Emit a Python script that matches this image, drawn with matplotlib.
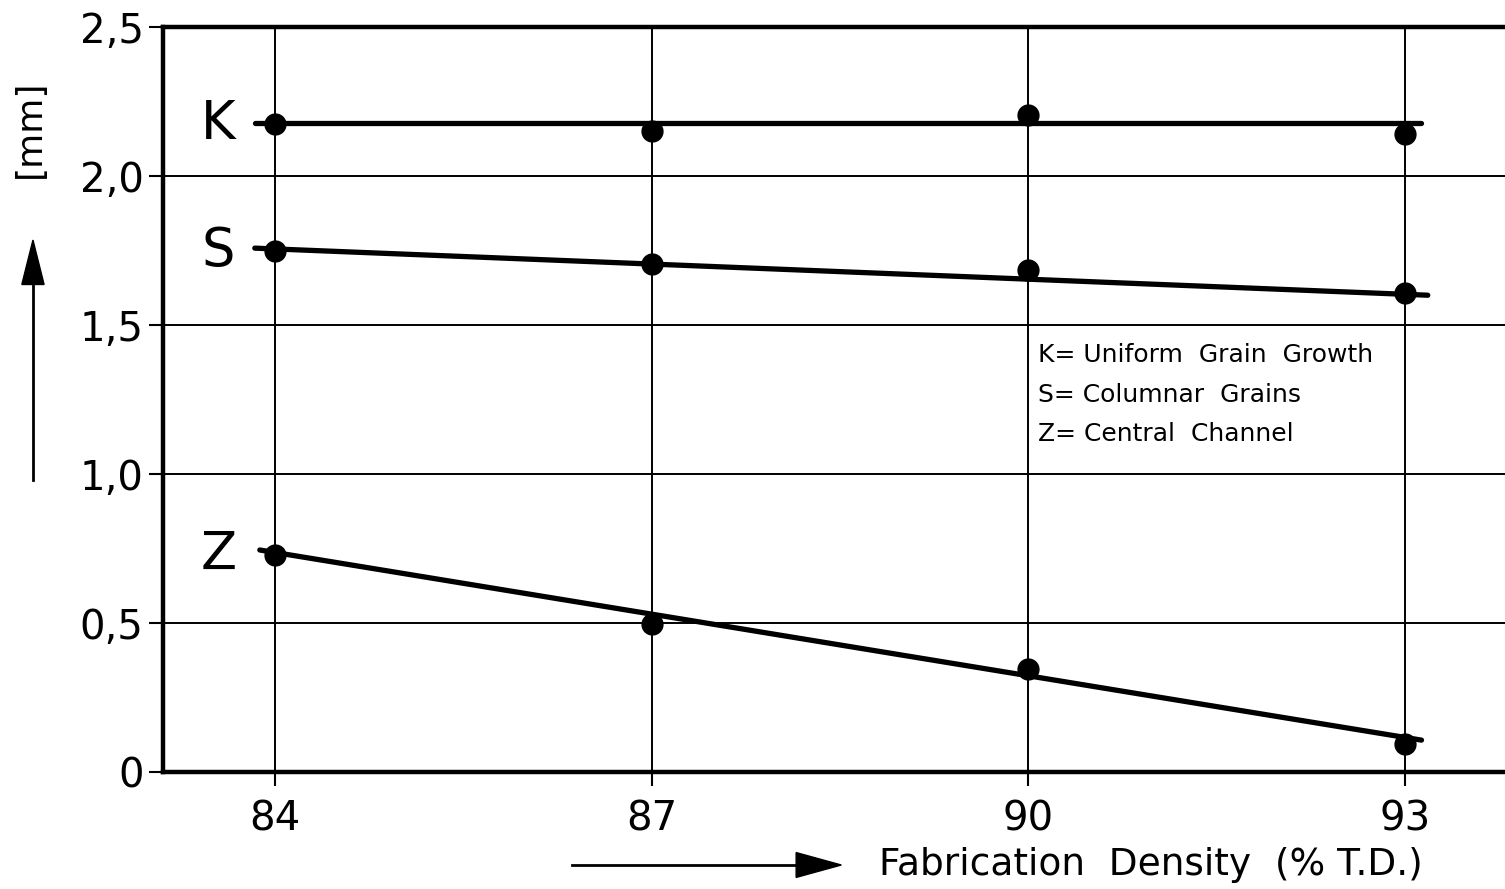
import matplotlib.pyplot as plt

# measured thickness of the three zones against fabrication density
density = [84, 87, 90, 93]
uniformGrowth = [2.175, 2.15, 2.205, 2.14]
columnarGrains = [1.75, 1.705, 1.685, 1.607]
centralChannel = [0.728, 0.497, 0.346, 0.094]

# hand-drawn trend lines: (x start, x end), (y start, y end)
trendK = ([83.84, 93.13], [2.178, 2.178])
trendS = ([83.84, 93.18], [1.758, 1.600])
trendZ = ([83.88, 93.13], [0.745, 0.107])

curveNames = ["K", "S", "Z"]
legendLines = ["K= Uniform  Grain  Growth",
               "S= Columnar  Grains",
               "Z= Central  Channel"]
yTicks = [0, 0.5, 1.0, 1.5, 2.0, 2.5]
yTickLabels = ["0", "0,5", "1,0", "1,5", "2,0", "2,5"]

plt.rcParams["font.family"] = ["DejaVu Sans"]

fig = plt.figure(figsize=(15.05, 8.89), dpi=100)
ax = fig.add_axes([0.1083, 0.1316, 0.8917, 0.838])

ax.set_xlim(83.109, 93.795)
ax.set_ylim(0, 2.5)

for spine in ["left", "bottom", "top"]:
    ax.spines[spine].set_linewidth(3.2)
ax.spines["right"].set_visible(False)

ax.set_xticks(density)
ax.set_xticklabels([str(d) for d in density])
ax.set_yticks(yTicks)
ax.set_yticklabels(yTickLabels)
ax.tick_params(axis="both", direction="out", length=10, width=1.5,
               labelsize=29, colors="black")
ax.tick_params(axis="y", pad=4)
ax.tick_params(axis="x", pad=10)
ax.grid(True, color="black", linewidth=1.4)
ax.set_axisbelow(True)

for (xs, ys), values, name in zip([trendK, trendS, trendZ],
                                  [uniformGrowth, columnarGrains, centralChannel],
                                  curveNames):
    ax.plot(xs, ys, color="black", linewidth=3.8, solid_capstyle="round", zorder=3)
    ax.plot(density, values, "o", color="black", markersize=15, zorder=4)
    ax.text(83.55, values[0], name, fontsize=38, ha="center", va="center")

for i, line in enumerate(legendLines):
    ax.text(90.08, 1.399 - i * 0.133, line, fontsize=18, ha="left", va="center")

# axis captions with arrows, drawn in figure coordinates
fig.text(0.02, 0.855, "[mm]", fontsize=26, rotation=90, ha="center", va="center")
fig.add_artist(plt.Line2D([0.0219, 0.0219], [0.46, 0.68], color="black", linewidth=2))
fig.patches.append(plt.Polygon([[0.0219, 0.73], [0.0145, 0.68], [0.0293, 0.68]],
                               closed=True, color="black", transform=fig.transFigure))

fig.text(0.584, 0.027, "Fabrication  Density  (% T.D.)", fontsize=27,
         ha="left", va="center")
fig.add_artist(plt.Line2D([0.38, 0.53], [0.027, 0.027], color="black", linewidth=2))
fig.patches.append(plt.Polygon([[0.559, 0.027], [0.529, 0.041], [0.529, 0.013]],
                               closed=True, color="black", transform=fig.transFigure))

fig.savefig("out.png", dpi=100)
